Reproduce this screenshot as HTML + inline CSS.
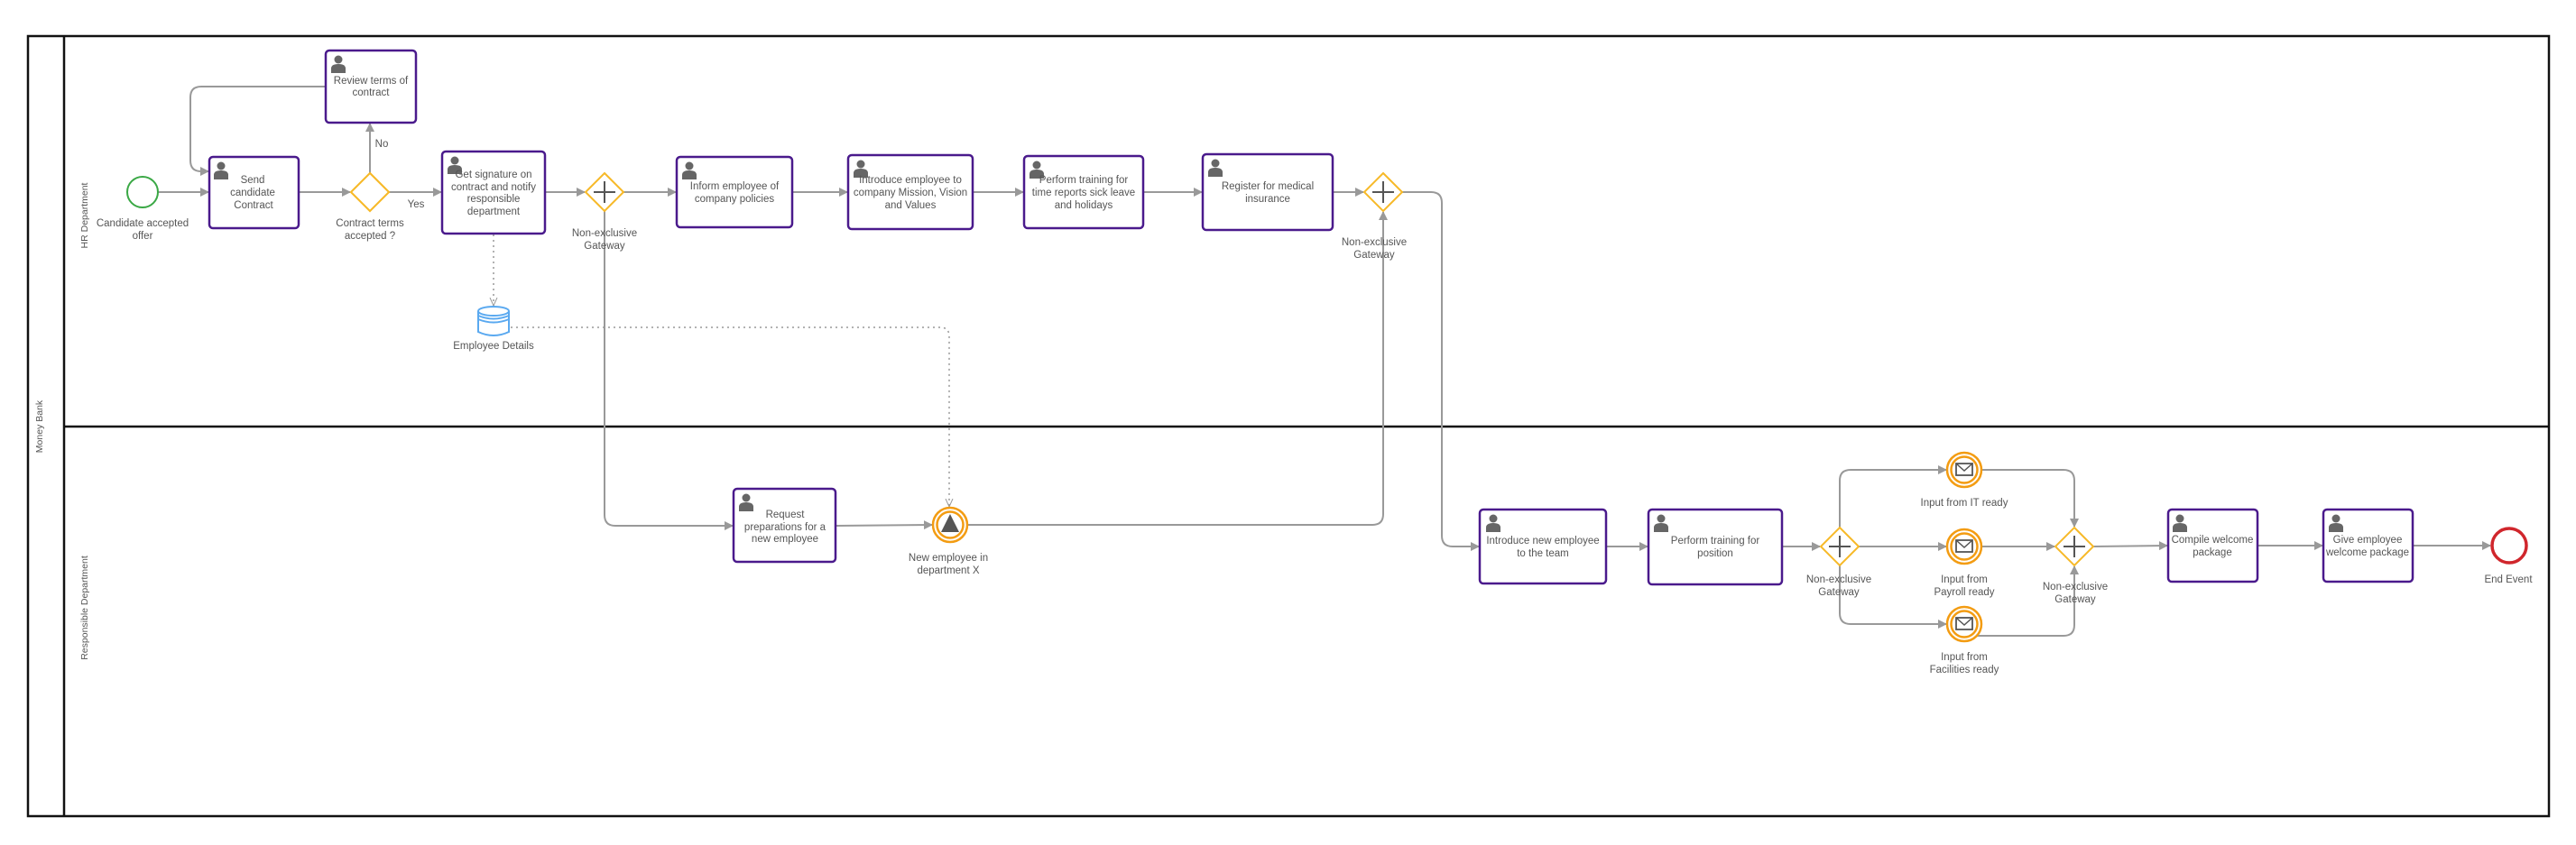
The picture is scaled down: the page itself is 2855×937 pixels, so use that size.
<!DOCTYPE html>
<html><head><meta charset="utf-8"><style>
html,body{margin:0;padding:0;background:#fff;}
svg{display:block;}
text{font-family:"Liberation Sans",sans-serif;font-size:11.5px;fill:#555;text-anchor:middle;dominant-baseline:middle;}
.box{fill:#fff;stroke:#4a1a8c;stroke-width:2.5;}
.ln{fill:none;stroke:#999;stroke-width:2;}
.dot{fill:none;stroke:#999;stroke-width:1.5;stroke-dasharray:2 4;}
.gw{fill:#fff;stroke:#f7b928;stroke-width:2;}
.ev{fill:#fff;stroke:#f39c12;stroke-width:2.5;}
</style></head><body>
<svg width="2855" height="937" viewBox="0 0 2855 937" xmlns="http://www.w3.org/2000/svg">
<defs>
<marker id="a" markerWidth="10" markerHeight="10" refX="9" refY="5" orient="auto" markerUnits="userSpaceOnUse"><path d="M0,0 L10,5 L0,10 z" fill="#999"/></marker>
<marker id="v" markerWidth="10" markerHeight="10" refX="9" refY="5" orient="auto" markerUnits="userSpaceOnUse"><path d="M0,1 L9,5 L0,9" fill="none" stroke="#999" stroke-width="1"/></marker>
<g id="p"><circle cx="0" cy="0" r="4.5" fill="#666"/><path d="M-8,15 L-8,10 Q-8,5 0,5 Q8,5 8,10 L8,15 z" fill="#666"/></g>
<g id="gwx"><path d="M0,-21 L21,0 L0,21 L-21,0 z" class="gw"/><path d="M0,-12 V12 M-12,0 H12" stroke="#555" stroke-width="2"/></g>
<g id="msg"><circle r="19" class="ev"/><circle r="14.5" class="ev" stroke-width="2"/><rect x="-9" y="-7" width="18" height="13" fill="#fff" stroke="#555" stroke-width="1.8"/><path d="M-9,-7 L0,1 L9,-7" fill="none" stroke="#555" stroke-width="1.5"/></g>
</defs>

<!-- pool -->
<rect x="31" y="40" width="2794" height="865" fill="none" stroke="#111" stroke-width="2.5"/>
<line x1="71" y1="40" x2="71" y2="905" stroke="#111" stroke-width="2.5"/>
<line x1="71" y1="473" x2="2825" y2="473" stroke="#111" stroke-width="2.5"/>
<text transform="translate(44,473) rotate(-90)" style="font-size:10.5px">Money Bank</text>
<text transform="translate(94,239) rotate(-90)" style="font-size:10.5px">HR Department</text>
<text transform="translate(94,674) rotate(-90)" style="font-size:10.5px">Responsible Department</text>

<!-- connectors HR -->
<line class="ln" x1="175" y1="213" x2="231" y2="213" marker-end="url(#a)"/>
<line class="ln" x1="331" y1="213" x2="388" y2="213" marker-end="url(#a)"/>
<line class="ln" x1="410" y1="192" x2="410" y2="137" marker-end="url(#a)"/>
<path class="ln" d="M361,96 H223 Q211,96 211,108 V178 Q211,190 223,190 H231" marker-end="url(#a)"/>
<line class="ln" x1="431" y1="213" x2="489" y2="213" marker-end="url(#a)"/>
<line class="ln" x1="604" y1="213" x2="648" y2="213" marker-end="url(#a)"/>
<line class="ln" x1="691" y1="213" x2="749" y2="213" marker-end="url(#a)"/>
<line class="ln" x1="878" y1="213" x2="939" y2="213" marker-end="url(#a)"/>
<line class="ln" x1="1078" y1="213" x2="1134" y2="213" marker-end="url(#a)"/>
<line class="ln" x1="1267" y1="213" x2="1332" y2="213" marker-end="url(#a)"/>
<line class="ln" x1="1477" y1="213" x2="1511" y2="213" marker-end="url(#a)"/>
<path class="ln" d="M1554,213 H1586 Q1598,213 1598,225 V594 Q1598,606 1610,606 H1639" marker-end="url(#a)"/>
<path class="ln" d="M670,234 V571 Q670,583 682,583 H812" marker-end="url(#a)"/>
<line class="ln" x1="926" y1="583" x2="1033" y2="582" marker-end="url(#a)"/>
<path class="ln" d="M1072,582 H1521 Q1533,582 1533,570 V235" marker-end="url(#a)"/>
<path class="dot" d="M547,260 V339" marker-end="url(#v)"/>
<path class="dot" d="M566,363 H1042 Q1052,363 1052,373 V562" marker-end="url(#v)"/>

<!-- connectors Responsible -->
<line class="ln" x1="1780" y1="606" x2="1826" y2="606" marker-end="url(#a)"/>
<line class="ln" x1="1975" y1="606" x2="2017" y2="606" marker-end="url(#a)"/>
<path class="ln" d="M2039,585 V533 Q2039,521 2051,521 H2157" marker-end="url(#a)"/>
<line class="ln" x1="2060" y1="606" x2="2157" y2="606" marker-end="url(#a)"/>
<path class="ln" d="M2039,627 V680 Q2039,692 2051,692 H2157" marker-end="url(#a)"/>
<path class="ln" d="M2196,521 H2287 Q2299,521 2299,533 V584" marker-end="url(#a)"/>
<line class="ln" x1="2196" y1="606" x2="2277" y2="606" marker-end="url(#a)"/>
<path class="ln" d="M2190,705 H2287 Q2299,705 2299,693 V628" marker-end="url(#a)"/>
<line class="ln" x1="2320" y1="606" x2="2402" y2="605" marker-end="url(#a)"/>
<line class="ln" x1="2502" y1="605" x2="2574" y2="605" marker-end="url(#a)"/>
<line class="ln" x1="2674" y1="605" x2="2760" y2="605" marker-end="url(#a)"/>

<!-- start -->
<circle cx="158" cy="213" r="17" fill="#fff" stroke="#3aa845" stroke-width="2"/>
<text x="158" y="248">Candidate accepted</text><text x="158" y="262">offer</text>

<!-- tasks -->
<rect class="box" x="232" y="174" width="99" height="79" rx="4"/><use href="#p" x="245" y="184"/>
<text x="280" y="200">Send</text><text x="280" y="214">candidate</text><text x="281" y="228">Contract</text>

<rect class="box" x="361" y="56" width="100" height="80" rx="4"/><use href="#p" x="375" y="66"/>
<text x="411" y="90">Review terms of</text><text x="411" y="103">contract</text>
<text x="423" y="160">No</text><text x="461" y="227">Yes</text>

<use href="#gwx" x="410" y="213"/><path d="M410,192 L431,213 L410,234 L389,213 z" class="gw"/>
<text x="410" y="248">Contract terms</text><text x="410" y="262">accepted ?</text>

<rect class="box" x="490" y="168" width="114" height="91" rx="4"/><use href="#p" x="504" y="178"/>
<text x="547" y="194">Get signature on</text><text x="547" y="208">contract and notify</text><text x="547" y="221">responsible</text><text x="547" y="235">department</text>

<use href="#gwx" x="670" y="213"/>
<text x="670" y="259">Non-exclusive</text><text x="670" y="273">Gateway</text>

<rect class="box" x="750" y="174" width="128" height="78" rx="4"/><use href="#p" x="764" y="184"/>
<text x="814" y="207">Inform employee of</text><text x="814" y="221">company policies</text>

<rect class="box" x="940" y="172" width="138" height="82" rx="4"/><use href="#p" x="954" y="182"/>
<text x="1009" y="200">Introduce employee to</text><text x="1009" y="214">company Mission, Vision</text><text x="1009" y="228">and Values</text>

<rect class="box" x="1135" y="173" width="132" height="80" rx="4"/><use href="#p" x="1149" y="183"/>
<text x="1201" y="200">Perform training for</text><text x="1201" y="214">time reports sick leave</text><text x="1201" y="228">and holidays</text>

<rect class="box" x="1333" y="171" width="144" height="84" rx="4"/><use href="#p" x="1347" y="181"/>
<text x="1405" y="207">Register for medical</text><text x="1405" y="221">insurance</text>

<use href="#gwx" x="1533" y="213"/>
<text x="1523" y="269">Non-exclusive</text><text x="1523" y="283">Gateway</text>

<!-- data store -->
<g fill="#fff" stroke="#5aa9f0" stroke-width="2">
<path d="M530,345 V368 Q547,376 564,368 V345"/>
<ellipse cx="547" cy="345" rx="17" ry="5"/>
<path d="M530,350 Q547,357 564,350 M530,354 Q547,361 564,354" fill="none"/>
</g>
<text x="547" y="384">Employee Details</text>

<!-- Responsible lane -->
<rect class="box" x="813" y="542" width="113" height="81" rx="4"/><use href="#p" x="827" y="552"/>
<text x="870" y="571">Request</text><text x="870" y="585">preparations for a</text><text x="870" y="598">new employee</text>

<circle cx="1053" cy="582" r="19" class="ev"/><circle cx="1053" cy="582" r="14.5" class="ev" stroke-width="2"/>
<path d="M1053,570 L1063,590 L1043,590 z" fill="#555"/>
<text x="1051" y="619">New employee in</text><text x="1051" y="633">department X</text>

<rect class="box" x="1640" y="565" width="140" height="82" rx="4"/><use href="#p" x="1655" y="575"/>
<text x="1710" y="600">Introduce new employee</text><text x="1710" y="614">to the team</text>

<rect class="box" x="1827" y="565" width="148" height="83" rx="4"/><use href="#p" x="1841" y="575"/>
<text x="1901" y="600">Perform training for</text><text x="1901" y="614">position</text>

<use href="#gwx" x="2039" y="606"/>
<text x="2038" y="643">Non-exclusive</text><text x="2038" y="657">Gateway</text>

<use href="#msg" x="2177" y="521"/><text x="2177" y="558">Input from IT ready</text>
<use href="#msg" x="2177" y="606"/><text x="2177" y="643">Input from</text><text x="2177" y="657">Payroll ready</text>
<use href="#msg" x="2177" y="692"/><text x="2177" y="729">Input from</text><text x="2177" y="743">Facilities ready</text>

<use href="#gwx" x="2299" y="606"/>
<text x="2300" y="651">Non-exclusive</text><text x="2300" y="665">Gateway</text>

<rect class="box" x="2403" y="565" width="99" height="80" rx="4"/><use href="#p" x="2416" y="575"/>
<text x="2452" y="599">Compile welcome</text><text x="2452" y="613">package</text>

<rect class="box" x="2575" y="565" width="99" height="80" rx="4"/><use href="#p" x="2589" y="575"/>
<text x="2624" y="599">Give employee</text><text x="2624" y="613">welcome package</text>

<circle cx="2781" cy="605" r="19" fill="#fff" stroke="#d0262c" stroke-width="3.5"/>
<text x="2780" y="643">End Event</text>
</svg>
</body></html>
